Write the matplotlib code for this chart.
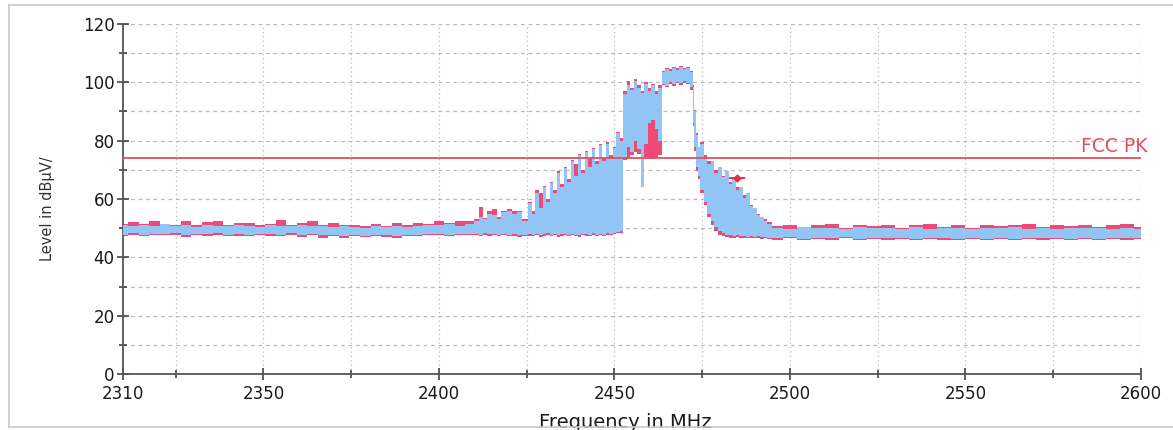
import numpy as np
import matplotlib
matplotlib.use('Agg')
import matplotlib.pyplot as plt
from matplotlib.ticker import MultipleLocator, FixedLocator

plt.rcParams['font.family'] = ['DejaVu Sans']

# spectrum trace (MHz / dBuV)
freq = [2310, 2313, 2316, 2319, 2322, 2325, 2328, 2331, 2334, 2337, 2340, 2343, 2346, 2349, 2352, 2355, 2358,
        2361, 2364, 2367, 2370, 2373, 2376, 2379, 2382, 2385, 2388, 2391, 2394, 2397, 2400, 2403, 2406, 2409,
        2411, 2412, 2413, 2414.5, 2416, 2417, 2418.5, 2420, 2421.5, 2423, 2424.5,
        2426, 2427, 2428, 2429, 2430, 2431, 2432, 2433, 2434, 2435, 2436, 2437, 2438, 2439, 2440, 2441, 2442,
        2443, 2444, 2445, 2446, 2447, 2448, 2449, 2450, 2451, 2452,
        2453, 2454, 2455, 2456, 2457, 2458, 2459, 2460, 2461, 2462, 2463,
        2464, 2465, 2466, 2467, 2468, 2469, 2470, 2471, 2472,
        2472.5, 2473, 2473.5, 2474, 2475, 2476, 2477, 2478, 2479, 2480, 2481, 2482, 2483, 2484, 2485, 2486,
        2487, 2488, 2489, 2490, 2491, 2492, 2493, 2494,
        2496, 2500, 2504, 2508, 2512, 2516, 2520, 2524, 2528, 2532, 2536, 2540, 2544, 2548, 2552, 2556, 2560,
        2564, 2568, 2572, 2576, 2580, 2584, 2588, 2592, 2596, 2600]

blue_hi = [51.0, 50.6, 51.2, 50.8, 51.3, 50.7, 51.0, 50.5, 51.1, 50.9, 50.6, 51.2, 50.8, 50.5, 51.0, 50.7, 50.9,
           51.1, 50.6, 50.8, 50.4, 50.9, 50.5, 50.2, 50.7, 50.3, 50.8, 50.5, 50.9, 51.2, 51.0, 51.4, 50.9, 51.6,
           52.5, 54.0, 53.0, 55.0, 54.5, 53.0, 55.5, 56.0, 55.0, 55.5, 52.5,
           58.5, 55.0, 62.0, 57.0, 64.0, 59.0, 65.5, 62.0, 69.0, 64.0, 70.5, 66.0, 73.0, 68.0, 75.0, 69.0, 76.0,
           71.0, 77.0, 72.0, 78.5, 73.0, 79.0, 74.0, 77.5, 82.5, 80.0,
           96.0, 99.0, 97.5, 100.5, 98.0, 96.5, 99.5, 97.0, 99.0, 96.0, 98.0,
           103.5, 104.5, 103.8, 105.0, 104.2, 105.3, 104.6, 105.0, 103.5,
           98.5, 90.0, 82.0, 78.0, 79.0, 74.0, 72.0, 73.0, 69.0, 71.0, 67.5, 69.5, 65.0, 67.0, 63.0, 64.0,
           60.5, 62.0, 57.5, 57.0, 54.5, 54.0, 52.5, 51.5,
           50.2, 49.8, 50.3, 49.9, 50.1, 49.7, 50.4, 49.9, 50.2, 49.8, 50.3, 49.6, 50.0, 50.2, 49.7, 50.1, 49.9,
           50.3, 49.8, 50.0, 49.6, 50.2, 49.9, 50.1, 49.7, 50.0, 49.8]

blue_lo = [47.8, 48.2, 47.6, 48.0, 47.9, 48.3, 47.7, 48.1, 47.9, 48.2, 47.8, 48.0, 47.6, 48.1, 47.9, 47.7, 48.2,
           47.8, 48.0, 47.5, 47.7, 47.3, 47.6, 47.4, 47.8, 47.5, 47.3, 47.7, 47.6, 47.9, 48.0, 47.8, 48.1, 47.9,
           48.0, 47.8, 48.2, 47.9, 48.1, 47.7, 48.0, 47.8, 47.9, 47.6, 47.8,
           48.0, 47.7, 48.1, 47.6, 47.9, 48.2, 47.8, 48.0, 47.6, 47.9, 48.1, 47.7, 48.0, 47.8, 47.6, 48.1, 47.9,
           47.7, 48.2, 47.8, 48.0, 47.7, 48.3, 48.1, 48.5, 48.7, 48.9,
           74.5, 78.0, 76.0, 80.0, 77.0, 64.0, 79.0, 86.0, 87.0, 84.0, 80.0,
           99.5, 98.8, 100.0, 99.3, 100.2, 99.6, 100.4, 99.8, 98.5,
           86.0, 78.0, 71.0, 68.0, 63.0, 59.0, 55.0, 52.5, 50.5, 49.0, 48.5, 47.8, 47.5, 47.3, 47.6, 47.2,
           47.4, 47.1, 47.3, 47.0, 47.2, 46.9, 47.1, 46.8,
           46.6, 46.9, 46.4, 46.8, 46.5, 46.9, 46.3, 46.7, 46.5, 46.8, 46.4, 46.7, 46.5, 46.3, 46.8, 46.4, 46.6,
           46.3, 46.7, 46.5, 46.8, 46.4, 46.6, 46.3, 46.7, 46.5, 46.6]

red_hi = [51.6, 52.2, 51.5, 52.4, 51.6, 51.2, 52.3, 51.0, 52.1, 52.6, 51.0, 51.8, 51.8, 51.0, 51.6, 52.8, 51.2,
          51.9, 52.3, 51.0, 51.8, 51.2, 51.0, 50.8, 51.6, 50.8, 51.9, 51.0, 51.8, 51.6, 52.3, 51.8, 52.5, 52.4,
          53.0, 57.3, 53.5, 56.0, 56.5, 54.0, 56.0, 56.5, 56.0, 56.0, 53.0,
          59.0, 56.0, 63.0, 62.0, 64.5, 60.0, 66.0, 63.0, 69.5, 65.0, 71.0, 67.0, 73.5, 72.0, 75.5, 70.0, 76.5,
          74.0, 77.5, 73.0, 79.0, 74.0, 79.5, 75.0, 78.0, 83.0, 81.0,
          97.0, 100.5, 98.0, 101.0, 99.0, 97.0, 100.0, 98.0, 99.5, 97.0, 99.0,
          104.0, 105.0, 104.5, 105.3, 104.8, 105.5, 105.0, 105.4, 104.0,
          99.0, 90.5, 82.5, 77.0, 79.5, 75.0, 73.0, 72.0, 70.0, 70.5, 68.0, 69.0, 66.0, 66.5, 64.0, 63.5,
          61.5, 61.0, 58.0, 56.5, 55.0, 53.5, 53.0, 52.0,
          50.9, 51.2, 50.5, 51.0, 51.3, 50.2, 51.1, 50.8, 51.2, 50.2, 51.0, 51.3, 50.5, 51.1, 50.2, 51.2, 50.9,
          51.0, 51.4, 50.3, 51.1, 50.8, 51.2, 50.4, 51.0, 51.3, 50.5]

red_lo = [47.4, 47.7, 47.2, 47.6, 47.5, 47.8, 47.1, 47.6, 47.4, 47.7, 47.4, 47.3, 47.2, 47.7, 47.2, 47.3, 47.7,
          46.9, 47.5, 46.8, 47.2, 46.8, 47.2, 46.9, 47.4, 47.0, 46.7, 47.3, 47.2, 47.5, 47.6, 47.4, 47.7, 47.5,
          47.5, 47.2, 47.7, 47.4, 47.6, 47.2, 47.5, 47.3, 47.4, 47.0, 47.3,
          47.4, 47.2, 47.6, 47.1, 47.4, 47.7, 47.3, 47.5, 47.1, 47.4, 47.6, 47.2, 47.5, 47.3, 47.1, 47.6, 47.4,
          47.2, 47.7, 47.3, 47.5, 47.2, 47.8, 47.6, 48.0, 48.2, 48.4,
          73.5, 74.0, 75.0, 76.0, 75.5, 74.0, 74.5, 74.0, 73.8, 74.0, 75.0,
          99.0, 98.3, 99.5, 98.8, 99.7, 99.2, 99.9, 99.3, 97.5,
          85.0, 76.5, 69.5, 67.0, 62.0, 58.0, 54.0, 51.0, 49.0, 47.8, 47.3, 46.9, 46.8, 46.7, 46.9, 46.6,
          46.8, 46.5, 46.7, 46.5, 46.6, 46.4, 46.5, 46.3,
          46.1, 46.5, 46.0, 46.4, 46.1, 46.5, 45.9, 46.3, 46.1, 46.4, 46.0, 46.3, 46.1, 45.9, 46.4, 46.0, 46.2,
          45.9, 46.3, 46.1, 46.4, 46.0, 46.2, 45.9, 46.3, 46.1, 46.2]

limit_level = 74
limit_name = 'FCC PK'
marker_freq = 2484.9
marker_level = 67.2

x_labels = [2310, 2350, 2400, 2450, 2500, 2550, 2600]
x_minor = [2325, 2375, 2425, 2475, 2525, 2575]

fig = plt.figure(figsize=(11.73, 4.30), dpi=100)
ax = fig.add_axes([0.1049, 0.1302, 0.8678, 0.8140])

ax.fill_between(freq, red_lo, red_hi, step='mid', color='#ee4a78', lw=0, zorder=2)
ax.fill_between(freq, blue_lo, blue_hi, step='mid', color='#92c4f4', lw=0, zorder=3)

ax.axhline(limit_level, color='#e0505a', lw=1.3, zorder=4)
ax.text(2602, limit_level + 0.9, limit_name, color='#e0505a', fontsize=13.5, ha='right', va='bottom')

ax.plot([marker_freq], [marker_level], marker='D', ms=3.5, color='#e8303c', zorder=5)
ax.plot([marker_freq], [marker_level], marker='_', ms=11, mew=1.4, color='#e8303c', zorder=5)

ax.set_xlim(2310, 2600)
ax.set_ylim(0, 120)
ax.xaxis.set_major_locator(FixedLocator(x_labels))
ax.xaxis.set_minor_locator(FixedLocator(x_minor))
ax.yaxis.set_major_locator(MultipleLocator(20))
ax.yaxis.set_minor_locator(MultipleLocator(10))

for v in x_labels[1:] + x_minor:
    ax.axvline(v, color='#b8b8b8', lw=0.9, ls=(0, (1, 2.5)), zorder=1)
for v in range(10, 121, 10):
    ax.axhline(v, color='#b8b8b8', lw=0.9, ls=(0, (3, 3)), zorder=1)

for s in ['top', 'right']:
    ax.spines[s].set_visible(False)
for s in ['left', 'bottom']:
    ax.spines[s].set_color('#555555')
    ax.spines[s].set_linewidth(1.3)

ax.tick_params(which='both', direction='inout', color='#444444', width=1.2)
ax.tick_params(which='major', length=8, labelsize=12, labelcolor='#1a1a1a')
ax.tick_params(axis='x', which='major', pad=4)
ax.tick_params(axis='y', which='major', pad=2)
ax.tick_params(which='minor', length=6)

ax.set_xlabel('Frequency in MHz', fontsize=14, color='#1a1a1a')
ax.xaxis.set_label_coords(0.493, -0.112)
ax.set_ylabel('Level in dBµV/', fontsize=10.5, color='#333333')
ax.yaxis.set_label_coords(-0.067, 0.471)

# light frame round the whole picture
fig.add_artist(plt.Line2D([0.0075, 0.0075], [0.007, 0.988], transform=fig.transFigure, color='#c8c8c8', lw=1.2))
fig.add_artist(plt.Line2D([0.0075, 1.0], [0.988, 0.988], transform=fig.transFigure, color='#c8c8c8', lw=1.2))
fig.add_artist(plt.Line2D([0.0075, 1.0], [0.007, 0.007], transform=fig.transFigure, color='#c8c8c8', lw=1.2))

fig.savefig('out.png', dpi=100)
